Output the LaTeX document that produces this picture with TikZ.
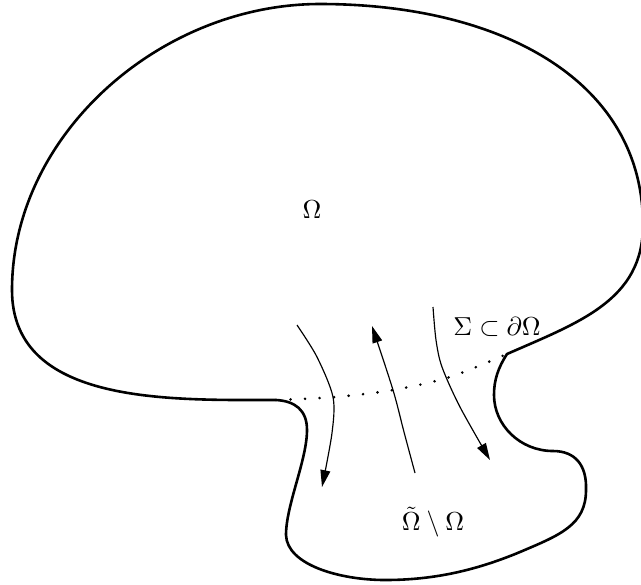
\documentclass[tikz,border=0pt]{standalone}
\usepackage{amsmath, amssymb}
\usepackage{tikz}
\usetikzlibrary{arrows.meta}
\tikzset{
  rim/.style   ={line width=1pt, line join=round},                                % outline of the domains
  seam/.style  ={line width=1.1pt, dash pattern=on 0pt off 5.6pt, line cap=round}, % Sigma
  flow/.style  ={-{Triangle[length=6.5pt, width=3.8pt]}, line width=0.45pt},      % crossing curves
  lbl/.style   ={inner sep=0pt},
}

\begin{document}
\begin{tikzpicture}[x=0.385pt, y=-0.385pt]
  \useasboundingbox (0,0) rectangle (641,584);
  % Omega, then tilde Omega minus Omega
  \draw[rim] (276,400)
    .. controls (170,400) and (12,405) .. (12,290)
    .. controls (12,135) and (160,4) .. (320,4)
    .. controls (500,4) and (643,80) .. (643,225)
    .. controls (643,300) and (580,322) .. (507,354)
    .. controls (498,368) and (494,380) .. (494,395)
    .. controls (494,425) and (520,451) .. (553,451)
    .. controls (575,451) and (587,465) .. (586,490)
    .. controls (586,525) and (560,535) .. (520,552)
    .. controls (472,572) and (430,580) .. (385,580)
    .. controls (340,580) and (287,565) .. (286,535)
    .. controls (286,505) and (307,460) .. (307,430)
    .. controls (307,410) and (295,401) .. (276,400) -- cycle;
  \draw[seam] plot[smooth] coordinates {(276,400) (335,397) (393,390) (450,377) (507,354)};

  \draw[flow] plot[smooth] coordinates {(297,325) (317,357) (333,397) (332,433) (322,487)};
  \draw[flow] plot[smooth] coordinates {(415,473) (404,432) (393,390) (372,326)};
  \draw[flow] plot[smooth] coordinates {(433,307) (436,340) (442,367) (460,407) (490,460)};

  \node[lbl] (om)    at (312,210) {$\Omega$};
  \node[lbl] (sig)   at (497,327) {$\Sigma\subset\partial\Omega$};
  \node[lbl] (omt)   at (433,522) {$\tilde{\Omega}\setminus\Omega$};
\end{tikzpicture}
\end{document}
